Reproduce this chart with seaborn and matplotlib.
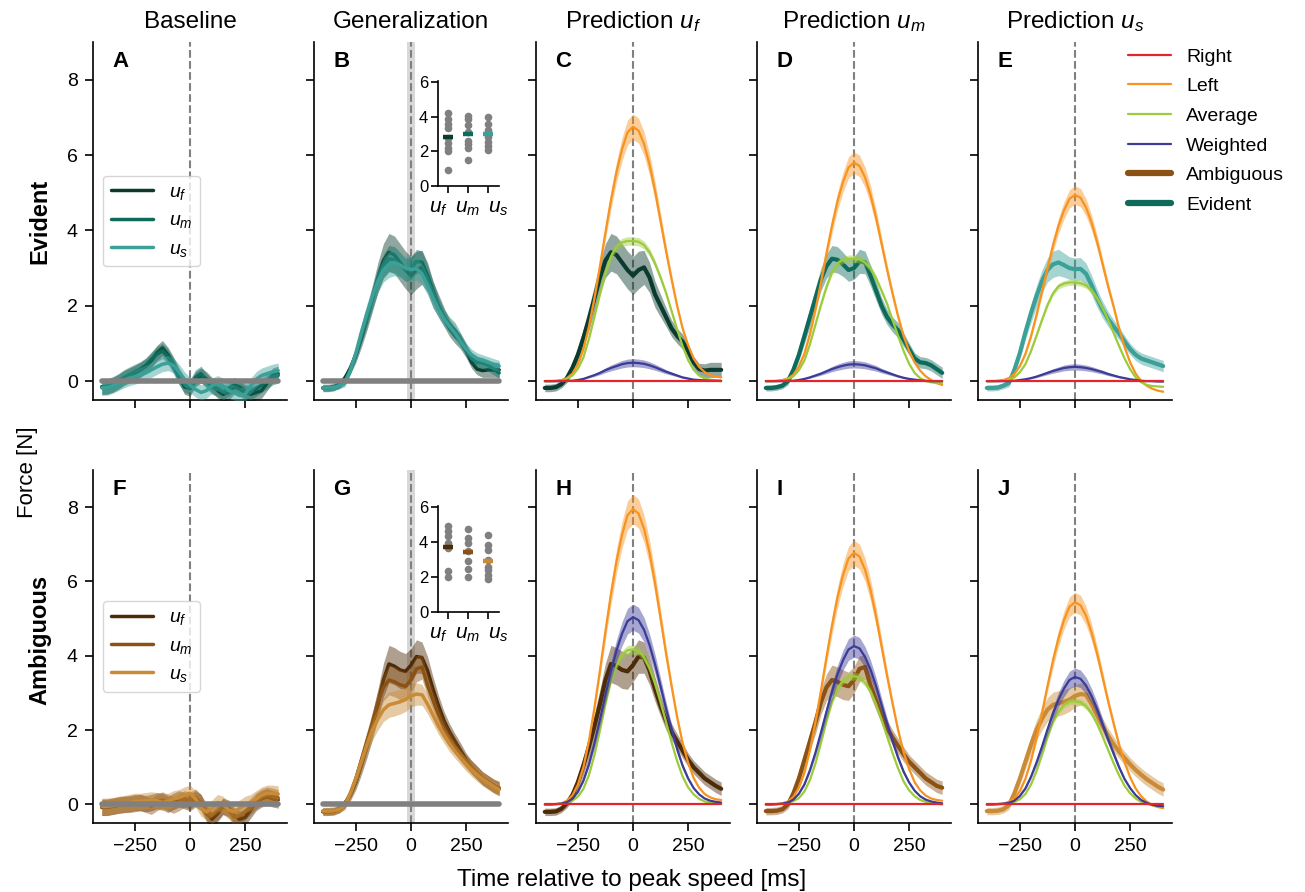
import numpy as np
import pandas as pd
import matplotlib
matplotlib.use("Agg")
import matplotlib.pyplot as plt
import seaborn as sns
from matplotlib.lines import Line2D

# ---------------- data ----------------
time_ms = list(range(-400, 401, 25))  # 33 samples

right_pred = [0.0] * 33

# empirical (Generalization) curves, Evident
ev_uf = [-0.18, -0.18, -0.16, -0.08, 0.08, 0.35, 0.7, 1.15, 1.65, 2.2, 2.75, 3.2, 3.42, 3.35, 3.15, 2.95, 2.8,
         2.95, 3.02, 2.75, 2.3, 2.0, 1.7, 1.4, 1.2, 1.05, 0.8, 0.5, 0.32, 0.28, 0.3, 0.3, 0.3]
ev_um = [-0.18, -0.18, -0.16, -0.12, 0.0, 0.3, 0.7, 1.2, 1.7, 2.2, 2.7, 3.05, 3.25, 3.22, 3.1, 2.95, 3.0,
         3.18, 3.15, 2.8, 2.4, 2.0, 1.7, 1.5, 1.35, 1.1, 0.85, 0.6, 0.5, 0.48, 0.42, 0.32, 0.22]
ev_us = [-0.18, -0.18, -0.17, -0.12, -0.05, 0.3, 0.75, 1.3, 1.8, 2.25, 2.65, 2.95, 3.1, 3.15, 3.08, 3.0, 2.97,
         2.98, 2.85, 2.55, 2.2, 1.9, 1.65, 1.45, 1.27, 1.05, 0.85, 0.7, 0.6, 0.55, 0.5, 0.45, 0.4]
ev_uf_se = [0.1, 0.1, 0.1, 0.1, 0.12, 0.15, 0.2, 0.25, 0.3, 0.35, 0.4, 0.45, 0.5, 0.5, 0.5, 0.5, 0.5,
            0.5, 0.45, 0.4, 0.35, 0.3, 0.25, 0.22, 0.2, 0.2, 0.18, 0.16, 0.15, 0.18, 0.2, 0.2, 0.2]
ev_um_se = [0.08, 0.08, 0.08, 0.08, 0.1, 0.12, 0.15, 0.2, 0.25, 0.28, 0.3, 0.32, 0.35, 0.35, 0.32, 0.3, 0.3,
            0.32, 0.3, 0.28, 0.25, 0.22, 0.2, 0.2, 0.2, 0.18, 0.16, 0.15, 0.15, 0.15, 0.15, 0.15, 0.15]
ev_us_se = [0.08, 0.08, 0.08, 0.08, 0.1, 0.12, 0.15, 0.2, 0.25, 0.28, 0.3, 0.32, 0.35, 0.35, 0.32, 0.3, 0.3,
            0.3, 0.28, 0.26, 0.24, 0.22, 0.2, 0.18, 0.17, 0.16, 0.15, 0.15, 0.15, 0.15, 0.15, 0.15, 0.15]

# empirical (Generalization) curves, Ambiguous
amb_uf = [-0.2, -0.2, -0.19, -0.12, 0.03, 0.25, 0.6, 1.05, 1.55, 2.1, 2.7, 3.35, 3.78, 3.72, 3.62, 3.58, 3.75,
          3.98, 3.95, 3.6, 3.1, 2.65, 2.25, 1.95, 1.7, 1.45, 1.2, 1.0, 0.85, 0.7, 0.6, 0.5, 0.42]
amb_um = [-0.18, -0.18, -0.17, -0.13, 0.0, 0.3, 0.7, 1.2, 1.7, 2.2, 2.75, 3.15, 3.35, 3.3, 3.22, 3.18, 3.35,
          3.65, 3.7, 3.2, 2.8, 2.4, 2.05, 1.8, 1.57, 1.35, 1.15, 1.0, 0.85, 0.7, 0.6, 0.5, 0.45]
amb_us = [-0.18, -0.18, -0.17, -0.13, -0.02, 0.3, 0.7, 1.15, 1.6, 2.0, 2.3, 2.55, 2.68, 2.72, 2.76, 2.82, 2.92,
          2.97, 2.95, 2.7, 2.4, 2.1, 1.85, 1.62, 1.42, 1.25, 1.08, 0.93, 0.8, 0.68, 0.58, 0.48, 0.4]
amb_uf_se = [0.1, 0.1, 0.1, 0.1, 0.12, 0.15, 0.2, 0.25, 0.3, 0.35, 0.4, 0.45, 0.5, 0.5, 0.5, 0.48, 0.45,
             0.45, 0.42, 0.38, 0.33, 0.28, 0.25, 0.22, 0.2, 0.2, 0.18, 0.18, 0.18, 0.18, 0.18, 0.18, 0.18]
amb_um_se = [0.1, 0.1, 0.1, 0.1, 0.12, 0.14, 0.18, 0.22, 0.26, 0.3, 0.33, 0.36, 0.4, 0.4, 0.4, 0.38, 0.36,
             0.35, 0.33, 0.3, 0.27, 0.24, 0.22, 0.2, 0.2, 0.2, 0.18, 0.18, 0.18, 0.18, 0.18, 0.18, 0.18]
amb_us_se = [0.1, 0.1, 0.1, 0.1, 0.12, 0.14, 0.17, 0.2, 0.24, 0.27, 0.3, 0.32, 0.34, 0.34, 0.33, 0.32, 0.3,
             0.3, 0.28, 0.26, 0.24, 0.22, 0.2, 0.2, 0.18, 0.18, 0.18, 0.18, 0.18, 0.18, 0.18, 0.18, 0.18]

# baseline curves
base_ev_uf = [-0.15, -0.15, -0.1, -0.02, 0.08, 0.15, 0.22, 0.3, 0.4, 0.55, 0.75, 0.88, 0.7, 0.45, 0.15, -0.15, -0.2,
              0.05, 0.15, 0.05, -0.1, -0.25, -0.35, -0.3, -0.15, -0.2, -0.3, -0.35, -0.3, -0.25, -0.05, 0.15, 0.2]
base_ev_um = [-0.15, -0.14, -0.08, 0.0, 0.1, 0.18, 0.25, 0.32, 0.42, 0.58, 0.72, 0.8, 0.65, 0.4, 0.1, -0.1, -0.15,
              0.1, 0.2, 0.0, -0.15, -0.2, -0.3, -0.2, -0.1, -0.15, -0.25, -0.3, -0.2, -0.1, 0.0, 0.1, 0.15]
base_ev_us = [-0.18, -0.17, -0.12, -0.05, 0.02, 0.08, 0.12, 0.17, 0.22, 0.3, 0.38, 0.45, 0.48, 0.42, 0.25, 0.05, -0.1,
              -0.22, -0.3, -0.25, -0.12, -0.05, -0.12, -0.25, -0.3, -0.38, -0.35, -0.12, 0.05, 0.15, 0.2, 0.25, 0.28]
base_amb_uf = [-0.08, -0.08, -0.05, -0.02, 0.0, 0.02, 0.05, 0.05, 0.02, 0.05, 0.1, 0.08, 0.0, 0.08, 0.15, 0.1, 0.05,
               0.15, 0.05, -0.25, -0.4, -0.25, -0.05, -0.1, -0.3, -0.4, -0.35, -0.15, 0.05, 0.15, 0.2, 0.15, 0.12]
base_amb_um = [-0.08, -0.07, -0.05, -0.02, 0.0, 0.0, 0.02, 0.05, 0.0, -0.05, 0.05, 0.12, 0.05, -0.02, 0.05, 0.15, 0.1,
               0.2, 0.05, -0.2, -0.3, -0.2, -0.05, -0.15, -0.35, -0.3, -0.2, -0.05, 0.1, 0.2, 0.25, 0.22, 0.18]
base_amb_us = [-0.05, -0.05, -0.03, 0.0, 0.02, 0.05, 0.08, 0.08, 0.1, 0.12, 0.1, 0.05, 0.08, 0.15, 0.18, 0.25, 0.3,
               0.15, -0.1, -0.2, -0.1, 0.05, 0.0, -0.15, -0.2, -0.1, 0.0, 0.05, 0.15, 0.25, 0.3, 0.3, 0.28]
base_ev_se = 0.2
base_amb_se = 0.22

# predictions, Evident
ev_C_left = [0, 0, 0.01, 0.03, 0.08, 0.2, 0.45, 0.85, 1.45, 2.2, 3.05, 3.95, 4.8, 5.55, 6.15, 6.6, 6.75,
             6.65, 6.3, 5.75, 5.05, 4.25, 3.45, 2.7, 2.0, 1.4, 0.95, 0.6, 0.38, 0.24, 0.16, 0.12, 0.1]
ev_C_avg = [0, 0, 0, 0.02, 0.06, 0.15, 0.33, 0.63, 1.12, 1.71, 2.31, 2.86, 3.31, 3.57, 3.68, 3.72, 3.72,
            3.7, 3.61, 3.42, 3.12, 2.75, 2.34, 1.86, 1.38, 0.93, 0.56, 0.3, 0.15, 0.07, 0.04, 0.02, 0.0]
ev_C_wtd = [0, 0, 0, 0, 0.01, 0.01, 0.03, 0.06, 0.11, 0.16, 0.22, 0.29, 0.35, 0.4, 0.45, 0.48, 0.49,
            0.48, 0.46, 0.42, 0.37, 0.31, 0.25, 0.2, 0.15, 0.1, 0.07, 0.04, 0.03, 0.02, 0.01, 0.01, 0.01]
ev_D_left = [0, 0, 0.01, 0.03, 0.07, 0.17, 0.39, 0.73, 1.25, 1.89, 2.62, 3.39, 4.12, 4.77, 5.28, 5.67, 5.8,
             5.71, 5.41, 4.94, 4.34, 3.65, 2.96, 2.32, 1.72, 1.2, 0.8, 0.5, 0.28, 0.13, 0.03, -0.05, -0.1]
ev_D_avg = [0, 0, 0, 0.02, 0.05, 0.13, 0.29, 0.55, 0.98, 1.5, 2.02, 2.5, 2.89, 3.12, 3.22, 3.25, 3.25,
            3.23, 3.15, 2.99, 2.73, 2.4, 2.05, 1.62, 1.2, 0.8, 0.46, 0.22, 0.08, 0.0, -0.03, -0.05, -0.05]
ev_D_wtd = [0, 0, 0, 0, 0.01, 0.01, 0.03, 0.06, 0.1, 0.15, 0.2, 0.26, 0.32, 0.37, 0.41, 0.44, 0.45,
            0.44, 0.42, 0.38, 0.34, 0.28, 0.23, 0.18, 0.13, 0.09, 0.06, 0.04, 0.02, 0.01, 0, 0, 0]
ev_E_left = [0, 0, 0.01, 0.03, 0.08, 0.19, 0.4, 0.72, 1.18, 1.75, 2.37, 3.0, 3.6, 4.12, 4.53, 4.84, 4.94,
             4.87, 4.61, 4.21, 3.7, 3.11, 2.52, 1.98, 1.4, 0.9, 0.5, 0.2, 0.0, -0.12, -0.2, -0.25, -0.28]
ev_E_avg = [0, 0, 0, 0.01, 0.04, 0.1, 0.24, 0.45, 0.79, 1.2, 1.62, 2.02, 2.33, 2.52, 2.59, 2.62, 2.62,
            2.6, 2.54, 2.41, 2.2, 1.94, 1.63, 1.28, 0.93, 0.6, 0.32, 0.1, -0.03, -0.1, -0.13, -0.14, -0.15]
ev_E_wtd = [0, 0, 0, 0, 0, 0.01, 0.03, 0.05, 0.08, 0.12, 0.17, 0.22, 0.27, 0.31, 0.35, 0.37, 0.38,
            0.37, 0.35, 0.32, 0.28, 0.24, 0.19, 0.15, 0.11, 0.08, 0.05, 0.03, 0.01, 0, 0, -0.01, -0.01]

# predictions, Ambiguous
amb_H_left = [0, 0, 0.01, 0.03, 0.1, 0.24, 0.53, 1.0, 1.71, 2.6, 3.6, 4.66, 5.66, 6.54, 7.25, 7.78, 7.95,
              7.83, 7.42, 6.78, 5.95, 5.01, 4.06, 3.18, 2.35, 1.65, 1.12, 0.71, 0.45, 0.28, 0.19, 0.14, 0.12]
amb_H_avg = [0, 0, 0, 0.02, 0.05, 0.1, 0.21, 0.42, 0.79, 1.33, 2.0, 2.71, 3.34, 3.75, 4.02, 4.15, 4.17,
             4.13, 3.96, 3.67, 3.25, 2.75, 2.21, 1.67, 1.17, 0.75, 0.46, 0.27, 0.15, 0.08, 0.05, 0.03, 0.02]
amb_H_wtd = [0, 0, 0.01, 0.02, 0.06, 0.15, 0.34, 0.64, 1.08, 1.64, 2.28, 2.95, 3.58, 4.14, 4.59, 4.93, 5.04,
             4.96, 4.7, 4.29, 3.77, 3.18, 2.58, 2.02, 1.49, 1.04, 0.7, 0.44, 0.27, 0.16, 0.1, 0.07, 0.05]
amb_I_left = [0, 0, 0.01, 0.03, 0.08, 0.2, 0.45, 0.85, 1.46, 2.21, 3.06, 3.96, 4.81, 5.57, 6.17, 6.62, 6.77,
              6.67, 6.32, 5.77, 5.06, 4.26, 3.46, 2.71, 2.0, 1.4, 0.95, 0.6, 0.38, 0.24, 0.16, 0.12, 0.1]
amb_I_avg = [0, 0, 0, 0.02, 0.04, 0.09, 0.17, 0.35, 0.66, 1.1, 1.66, 2.24, 2.76, 3.11, 3.33, 3.43, 3.45,
             3.42, 3.28, 3.04, 2.69, 2.28, 1.83, 1.38, 0.97, 0.62, 0.38, 0.22, 0.12, 0.07, 0.03, 0.02, 0.0]
amb_I_wtd = [0, 0, 0.01, 0.02, 0.05, 0.13, 0.29, 0.54, 0.92, 1.39, 1.93, 2.49, 3.03, 3.5, 3.88, 4.17, 4.26,
             4.2, 3.97, 3.63, 3.19, 2.68, 2.18, 1.7, 1.26, 0.88, 0.59, 0.37, 0.22, 0.13, 0.08, 0.05, 0.03]
amb_J_left = [0, 0, 0.01, 0.02, 0.07, 0.16, 0.36, 0.69, 1.17, 1.77, 2.46, 3.18, 3.87, 4.47, 4.96, 5.32, 5.44,
              5.36, 5.08, 4.63, 4.07, 3.43, 2.78, 2.18, 1.61, 1.13, 0.73, 0.43, 0.22, 0.08, -0.02, -0.07, -0.1]
amb_J_avg = [0, 0, 0, 0.01, 0.03, 0.07, 0.14, 0.28, 0.53, 0.89, 1.33, 1.81, 2.22, 2.5, 2.68, 2.77, 2.78,
             2.75, 2.64, 2.45, 2.17, 1.83, 1.47, 1.11, 0.78, 0.5, 0.3, 0.16, 0.07, 0.02, -0.02, -0.04, -0.05]
amb_J_wtd = [0, 0, 0.01, 0.02, 0.04, 0.1, 0.23, 0.43, 0.74, 1.12, 1.55, 2.01, 2.44, 2.82, 3.12, 3.35, 3.43,
             3.38, 3.2, 2.92, 2.57, 2.16, 1.75, 1.37, 1.0, 0.68, 0.44, 0.25, 0.12, 0.04, -0.01, -0.04, -0.05]

# relative CI widths of the predictions
rel_left = 0.05
rel_avg = 0.03
rel_wtd_ev = 0.22
rel_wtd_amb = 0.07

# inset (peak force per participant)
inset_cats = ["$u_f$", "$u_m$", "$u_s$"]
ev_inset_uf = [4.2, 3.85, 3.6, 3.35, 2.75, 2.45, 2.2, 2.0, 0.9]
ev_inset_um = [4.05, 3.85, 3.5, 3.1, 2.6, 2.4, 2.2, 1.5]
ev_inset_us = [3.95, 3.6, 3.2, 2.8, 2.55, 2.3, 2.1]
ev_inset_means = [2.85, 3.02, 2.98]
amb_inset_uf = [4.9, 4.65, 4.35, 3.95, 3.65, 2.35, 2.0]
amb_inset_um = [4.75, 4.2, 3.95, 3.5, 2.9, 2.45, 2.0]
amb_inset_us = [4.4, 3.8, 3.55, 2.95, 2.55, 2.4, 2.1, 1.9]
amb_inset_means = [3.72, 3.42, 2.92]

col_titles = ["Baseline", "Generalization", "Prediction $u_f$", "Prediction $u_m$", "Prediction $u_s$"]
row_titles = ["Evident", "Ambiguous"]
panel_letters = [["A", "B", "C", "D", "E"], ["F", "G", "H", "I", "J"]]
legend_labels = ["Right", "Left", "Average", "Weighted", "Ambiguous", "Evident"]

# ---------------- style ----------------
sns.set_style("ticks")
plt.rcParams['font.family'] = ['Liberation Sans', 'DejaVu Sans']
plt.rcParams['mathtext.fontset'] = 'custom'
plt.rcParams['mathtext.it'] = 'Liberation Sans:italic'
plt.rcParams['mathtext.rm'] = 'Liberation Sans'
plt.rcParams['mathtext.bf'] = 'Liberation Sans:bold'
plt.rcParams['axes.linewidth'] = 1.2
plt.rcParams['xtick.major.width'] = 1.2
plt.rcParams['ytick.major.width'] = 1.2
plt.rcParams['axes.edgecolor'] = 'black'
plt.rcParams['xtick.color'] = 'black'
plt.rcParams['ytick.color'] = 'black'
plt.rcParams['xtick.labelcolor'] = 'black'
plt.rcParams['ytick.labelcolor'] = 'black'
plt.rcParams['text.color'] = 'black'
plt.rcParams['axes.labelcolor'] = 'black'

C_RIGHT = '#e3262b'
C_LEFT = '#f7931e'
C_AVG = '#9ccb3b'
C_WTD = '#3b3b98'
EV_COLS = ['#0b3b2e', '#0e6b5c', '#3aa098']
AMB_COLS = ['#4d2b07', '#8b5214', '#c98b36']
GRAY = '#808080'

FW, FH = 1305, 892
fig = plt.figure(figsize=(FW / 100, FH / 100), dpi=100)
lefts = [93, 314, 536, 757, 978]
W = 194
rows_px = [(42, 400), (470, 823)]

def add_ax(l, t, b):
    return fig.add_axes([l / FW, 1 - b / FH, W / FW, (b - t) / FH])

def draw_band_line(ax, y, se, color, lw, alpha, z):
    y = np.asarray(y, float)
    se = np.asarray(se, float) * np.ones_like(y)
    ax.fill_between(time_ms, y - se, y + se, color=color, alpha=alpha, lw=0, zorder=z)
    sns.lineplot(x=time_ms, y=y, ax=ax, color=color, linewidth=lw, zorder=z + 0.1,
                 estimator=None, legend=False)

def draw_pred(ax, y, rel, color, z):
    y = np.asarray(y, float)
    draw_band_line(ax, y, rel * np.abs(y), color, 1.6, 0.45, z)

emp = [[ev_uf, ev_um, ev_us], [amb_uf, amb_um, amb_us]]
emp_se = [[ev_uf_se, ev_um_se, ev_us_se], [amb_uf_se, amb_um_se, amb_us_se]]
base = [[base_ev_uf, base_ev_um, base_ev_us], [base_amb_uf, base_amb_um, base_amb_us]]
base_se = [base_ev_se, base_amb_se]
preds = [[(ev_C_left, ev_C_avg, ev_C_wtd), (ev_D_left, ev_D_avg, ev_D_wtd), (ev_E_left, ev_E_avg, ev_E_wtd)],
         [(amb_H_left, amb_H_avg, amb_H_wtd), (amb_I_left, amb_I_avg, amb_I_wtd), (amb_J_left, amb_J_avg, amb_J_wtd)]]
rel_wtd = [rel_wtd_ev, rel_wtd_amb]
cols = [EV_COLS, AMB_COLS]

axes = [[None] * 5 for _ in range(2)]
for r in range(2):
    t, b = rows_px[r]
    for c in range(5):
        ax = add_ax(lefts[c], t, b)
        axes[r][c] = ax
        ax.set_xlim(-440, 440)
        ax.set_ylim(-0.5, 9)
        ax.set_xticks([-250, 0, 250])
        ax.set_yticks([0, 2, 4, 6, 8])
        ax.tick_params(labelsize=14, length=6, pad=5)
        sns.despine(ax=ax)
        if c > 0:
            ax.tick_params(labelleft=False)
        if r == 0:
            ax.tick_params(labelbottom=False)
        ax.axvline(0, color=GRAY, ls='--', lw=1.5, zorder=1)
        ax.text(0.1, 0.975, panel_letters[r][c], transform=ax.transAxes, ha='left', va='top',
                fontsize=16, fontweight='bold')
        if c == 0:
            for k in range(3):
                draw_band_line(ax, base[r][k], base_se[r], cols[r][k], 2.5, 0.45, 2 + k)
            sns.lineplot(x=time_ms, y=right_pred, ax=ax, color=GRAY, linewidth=4, zorder=6,
                         estimator=None, legend=False)
            hs = [Line2D([0], [0], color=cols[r][k], lw=2.5) for k in range(3)]
            ax.legend(hs, inset_cats, loc='center left', bbox_to_anchor=(0.0, 0.5), fontsize=14,
                      handlelength=2.2, handletextpad=0.8, borderaxespad=0.5)
        elif c == 1:
            ax.axvspan(-20, 20, color='#d8d8d8', lw=0, zorder=0.5)
            for k in range(3):
                draw_band_line(ax, emp[r][k], emp_se[r][k], cols[r][k], 2.5, 0.45, 2 + k)
            sns.lineplot(x=time_ms, y=right_pred, ax=ax, color=GRAY, linewidth=4, zorder=6,
                         estimator=None, legend=False)
        else:
            k = c - 2
            draw_band_line(ax, emp[r][k], emp_se[r][k], cols[r][k], 3.0, 0.45, 2)
            left, avg, wtd = preds[r][k]
            draw_pred(ax, left, rel_left, C_LEFT, 3)
            draw_pred(ax, avg, rel_avg, C_AVG, 4)
            draw_pred(ax, wtd, rel_wtd[r], C_WTD, 5)
            sns.lineplot(x=time_ms, y=right_pred, ax=ax, color=C_RIGHT, linewidth=1.6, zorder=6,
                         estimator=None, legend=False)

# insets
inset_rows = [(81, 186), (506, 612)]
inset_data = [[ev_inset_uf, ev_inset_um, ev_inset_us], [amb_inset_uf, amb_inset_um, amb_inset_us]]
inset_means = [ev_inset_means, amb_inset_means]
for r in range(2):
    t, b = inset_rows[r]
    axi = fig.add_axes([438 / FW, 1 - b / FH, 61 / FW, (b - t) / FH])
    axi.set_facecolor('none')
    df = pd.DataFrame({
        'cond': sum([[inset_cats[k]] * len(inset_data[r][k]) for k in range(3)], []),
        'force': sum([list(inset_data[r][k]) for k in range(3)], []),
    })
    sns.stripplot(data=df, x='cond', y='force', ax=axi, color=GRAY, jitter=False, size=5.5,
                  order=inset_cats, zorder=2)
    for k in range(3):
        axi.plot([k], [inset_means[r][k]], marker='_', ms=7, mew=3.2, color=cols[r][k], zorder=4)
    axi.set_xlim(-0.5, 2.55)
    axi.set_ylim(0, 6.05)
    axi.set_yticks([0, 2, 4, 6])
    axi.set_xticks([0, 1, 2])
    axi.set_xticklabels(inset_cats)
    axi.set_xlabel('')
    axi.set_ylabel('')
    axi.tick_params(labelsize=12, length=5, pad=2)
    axi.tick_params(axis='x', labelsize=15, pad=4)
    xl = axi.get_xticklabels()
    xl[0].set_ha('right')
    xl[2].set_ha('left')
    sns.despine(ax=axi)

# titles and labels
for c in range(5):
    cx = (lefts[c] + W / 2) / FW
    fig.text(cx, 1 - 28 / FH, col_titles[c], ha='center', va='baseline', fontsize=17.5)
fig.text(632 / FW, 1 - 886 / FH, "Time relative to peak speed [ms]", ha='center', va='baseline', fontsize=17.5)
fig.text(28 / FW, 1 - 472 / FH, "Force [N]", ha='center', va='center', rotation=90, fontsize=16)
fig.text(40 / FW, 1 - 221 / FH, row_titles[0], ha='center', va='center', rotation=90, fontsize=17,
         fontweight='bold')
fig.text(40 / FW, 1 - 640 / FH, row_titles[1], ha='center', va='center', rotation=90, fontsize=17,
         fontweight='bold')

# main legend
leg_handles = [Line2D([0], [0], color=C_RIGHT, lw=1.6), Line2D([0], [0], color=C_LEFT, lw=1.6),
               Line2D([0], [0], color=C_AVG, lw=1.6), Line2D([0], [0], color=C_WTD, lw=1.6),
               Line2D([0], [0], color=AMB_COLS[1], lw=4.5), Line2D([0], [0], color=EV_COLS[1], lw=4.5)]
fig.legend(leg_handles, legend_labels, loc='upper left', bbox_to_anchor=(1128 / FW, 1 - 48 / FH),
           frameon=False, fontsize=14, handlelength=2.2, handletextpad=0.8, labelspacing=0.62,
           borderpad=0, borderaxespad=0)

fig.savefig('out.png', dpi=100)
